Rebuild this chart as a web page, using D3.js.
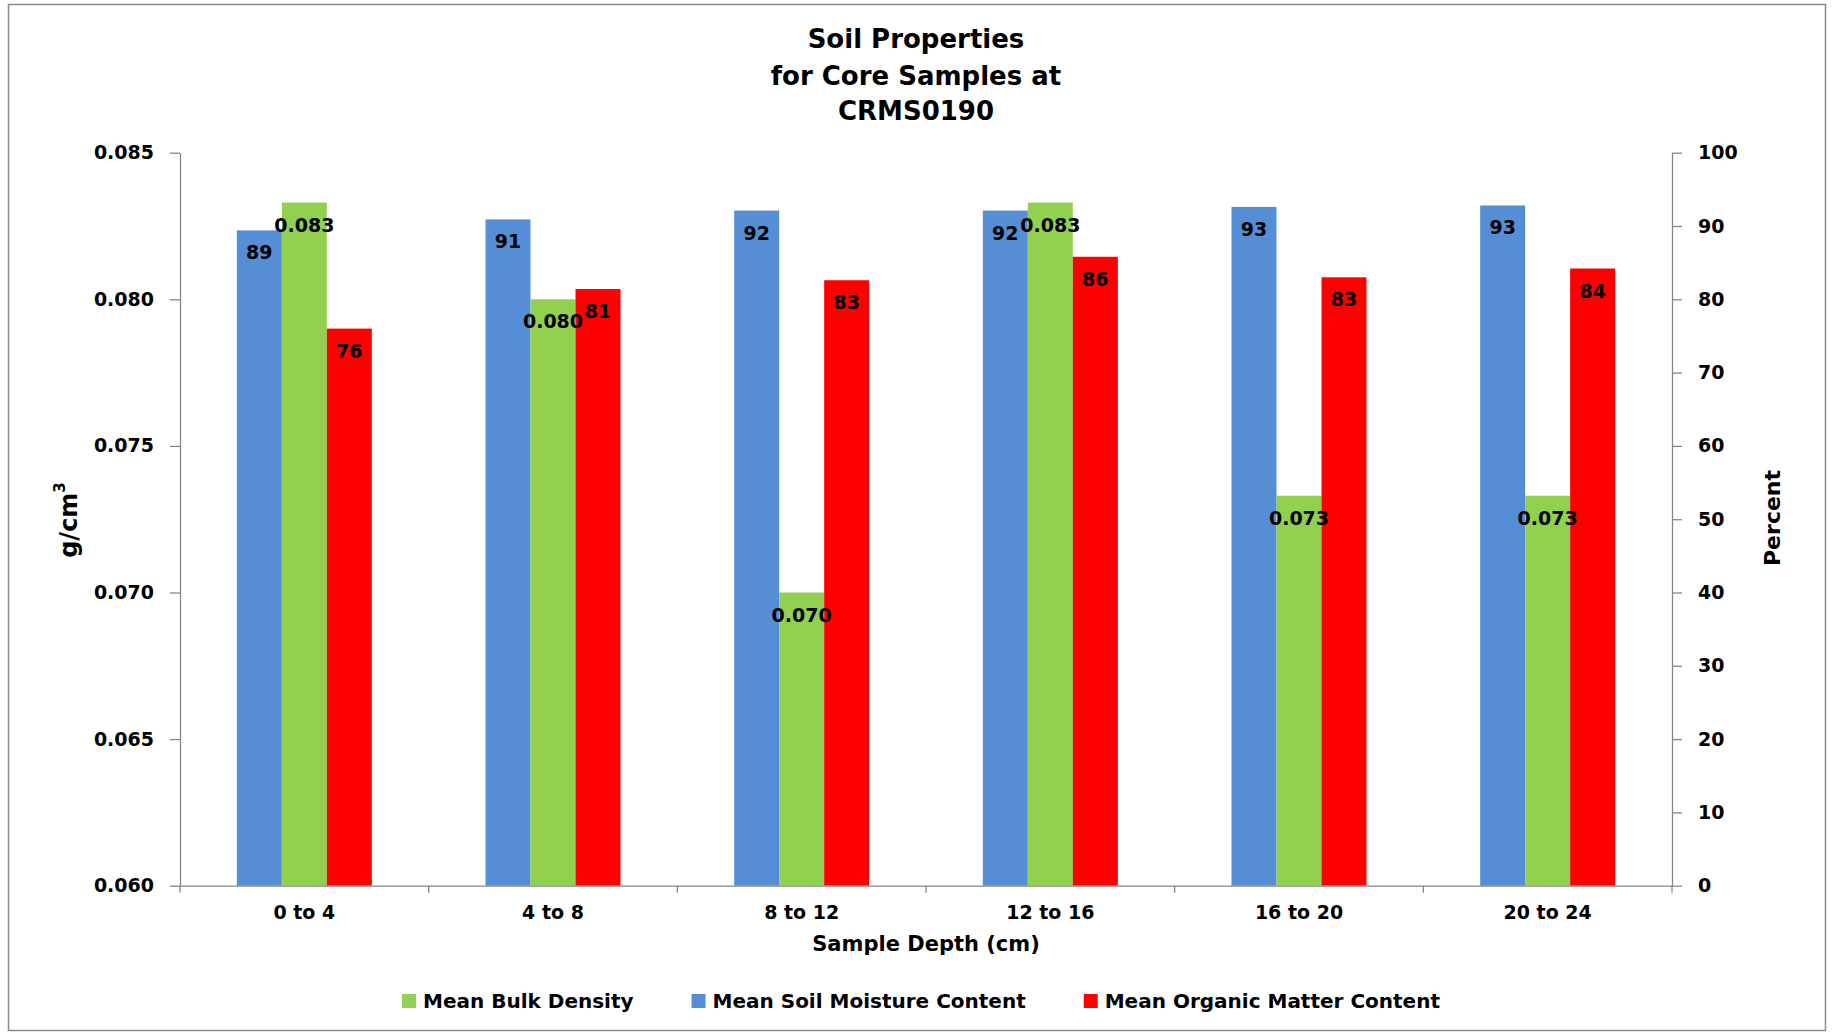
<!DOCTYPE html>
<html>
<head>
<meta charset="utf-8">
<title>Soil Properties for Core Samples at CRMS0190</title>
<script src="https://cdn.jsdelivr.net/npm/d3@7"></script>
<style>
  html, body { margin: 0; padding: 0; background: #ffffff; }
  svg { display: block; }
  text { font-family: "DejaVu Sans", Verdana, sans-serif; font-weight: bold; fill: #000; }
</style>
</head>
<body>
<svg id="chart" width="1832" height="1032"></svg>
<script>
// Sample depth intervals (cm)
const categories = ["0 to 4", "4 to 8", "8 to 12", "12 to 16", "16 to 20", "20 to 24"];
// Mean bulk density, g/cm3 (left axis)
const bulkDensity = [0.0833, 0.0800, 0.0700, 0.0833, 0.0733, 0.0733];
// Mean soil moisture content, percent (right axis)
const soilMoisture = [89.4, 90.9, 92.1, 92.1, 92.6, 92.8];
// Mean organic matter content, percent (right axis)
const organicMatter = [76.0, 81.4, 82.6, 85.8, 83.0, 84.2];

const leftTicks = [0.060, 0.065, 0.070, 0.075, 0.080, 0.085];
const rightTicks = [0, 10, 20, 30, 40, 50, 60, 70, 80, 90, 100];

const titleLines = ["Soil Properties", "for Core Samples at", "CRMS0190"];
const xTitle = "Sample Depth (cm)";
const rightTitle = "Percent";

// Series as drawn left-to-right inside each group
const series = [
  { key: "moisture", name: "Mean Soil Moisture Content", values: soilMoisture, axis: "right", color: "#558ED5", fmt: d3.format(".0f") },
  { key: "bulk", name: "Mean Bulk Density", values: bulkDensity, axis: "left", color: "#92D050", fmt: d3.format(".3f") },
  { key: "organic", name: "Mean Organic Matter Content", values: organicMatter, axis: "right", color: "#FF0000", fmt: d3.format(".0f") }
];
const legendOrder = ["bulk", "moisture", "organic"];

const svg = d3.select("#chart");
const plot = { left: 180, right: 1672, top: 152.7, bottom: 885.7 };
const axisColor = "#868686";

// Outer frame
svg.append("rect")
  .attr("x", 8.5).attr("y", 4.5)
  .attr("width", 1817).attr("height", 1026)
  .attr("fill", "#fff").attr("stroke", "#8a8a8a").attr("stroke-width", 1.5);

// Scales
const x = d3.scaleBand().domain(categories).range([plot.left, plot.right]).paddingInner(0).paddingOuter(0);
const groupW = 135;
const xs = d3.scaleBand().domain(series.map(s => s.key))
  .range([(x.bandwidth() - groupW) / 2, (x.bandwidth() + groupW) / 2]);
const yL = d3.scaleLinear().domain([0.060, 0.085]).range([plot.bottom, plot.top]);
const yR = d3.scaleLinear().domain([0, 100]).range([plot.bottom, plot.top]);

// Bars
const barsG = svg.append("g");
series.forEach(s => {
  const y = s.axis === "left" ? yL : yR;
  barsG.selectAll(null)
    .data(s.values.map((v, i) => ({ v, c: categories[i] })))
    .join("rect")
    .attr("x", d => x(d.c) + xs(s.key))
    .attr("width", xs.bandwidth())
    .attr("y", d => y(d.v))
    .attr("height", d => y.range()[0] - y(d.v))
    .attr("fill", s.color);
});

// Data labels, inside the top end of each bar
const labelsG = svg.append("g");
series.forEach(s => {
  const y = s.axis === "left" ? yL : yR;
  labelsG.selectAll(null)
    .data(s.values.map((v, i) => ({ v, c: categories[i] })))
    .join("text")
    .attr("x", d => x(d.c) + xs(s.key) + xs.bandwidth() / 2)
    .attr("y", d => y(d.v) + 22)
    .attr("text-anchor", "middle")
    .attr("dominant-baseline", "central")
    .style("font-size", "19px")
    .text(d => s.fmt(d.v));
});

function styleAxis(g) {
  g.select(".domain").attr("stroke", axisColor).attr("stroke-width", 1.3);
  g.selectAll(".tick line").attr("stroke", axisColor).attr("stroke-width", 1.3);
  g.selectAll(".tick text").style("font-size", "19px").style("font-family", "'DejaVu Sans', Verdana, sans-serif")
    .style("font-weight", "bold").attr("fill", "#000");
}

// Left axis
svg.append("g")
  .attr("transform", `translate(${plot.left},0)`)
  .call(d3.axisLeft(yL).tickValues(leftTicks).tickFormat(d3.format(".3f")).tickSize(10).tickSizeOuter(0).tickPadding(16))
  .call(styleAxis);

// Right axis
svg.append("g")
  .attr("transform", `translate(${plot.right},0)`)
  .call(d3.axisRight(yR).tickValues(rightTicks).tickFormat(d3.format("d")).tickSize(10).tickSizeOuter(0).tickPadding(16))
  .call(styleAxis);

// Bottom axis: labels centred on each group, tick marks on group boundaries
const xAxisG = svg.append("g")
  .attr("transform", `translate(0,${plot.bottom})`)
  .call(d3.axisBottom(x).tickSize(0).tickSizeOuter(0).tickPadding(20))
  .call(styleAxis);
xAxisG.selectAll(".tick line").remove();
const bounds = categories.map(c => x(c)).concat([x.range()[1]]);
xAxisG.selectAll(".bound")
  .data(bounds)
  .join("line")
  .attr("class", "bound")
  .attr("x1", d => d).attr("x2", d => d)
  .attr("y1", 0).attr("y2", 7)
  .attr("stroke", axisColor).attr("stroke-width", 1.3);

// Title
const title = svg.append("text")
  .attr("text-anchor", "middle")
  .style("font-size", "26px");
const titleY = [39, 75.5, 110.5];
titleLines.forEach((t, i) => {
  title.append("tspan")
    .attr("x", 916)
    .attr("y", titleY[i])
    .attr("dominant-baseline", "central")
    .text(t);
});

// Axis titles
svg.append("text")
  .attr("x", (plot.left + plot.right) / 2)
  .attr("y", 944)
  .attr("text-anchor", "middle")
  .attr("dominant-baseline", "central")
  .style("font-size", "21px")
  .text(xTitle);

const lt = svg.append("text")
  .attr("transform", "translate(69,520) rotate(-90)")
  .attr("text-anchor", "middle")
  .attr("dominant-baseline", "central")
  .style("font-size", "24px");
lt.append("tspan").text("g/cm");
lt.append("tspan").attr("baseline-shift", "super").style("font-size", "15px").text("3");

svg.append("text")
  .attr("transform", "translate(1772,518) rotate(-90)")
  .attr("text-anchor", "middle")
  .attr("dominant-baseline", "central")
  .style("font-size", "22px")
  .text(rightTitle);

// Legend
const legend = svg.append("g");
const legendItems = legendOrder.map(k => series.find(s => s.key === k));
const legendGap = 58;
let cursor = 0;
legendItems.forEach(s => {
  const g = legend.append("g");
  g.append("rect").attr("x", 0).attr("y", -7).attr("width", 14).attr("height", 14).attr("fill", s.color);
  const t = g.append("text").attr("x", 21).attr("y", 0)
    .attr("dominant-baseline", "central").style("font-size", "20px").text(s.name);
  const w = 21 + t.node().getComputedTextLength();
  g.attr("transform", `translate(${cursor},0)`);
  cursor += w + legendGap;
});
const legendW = cursor - legendGap;
legend.attr("transform", `translate(${921 - legendW / 2},1001)`);
</script>
</body>
</html>
